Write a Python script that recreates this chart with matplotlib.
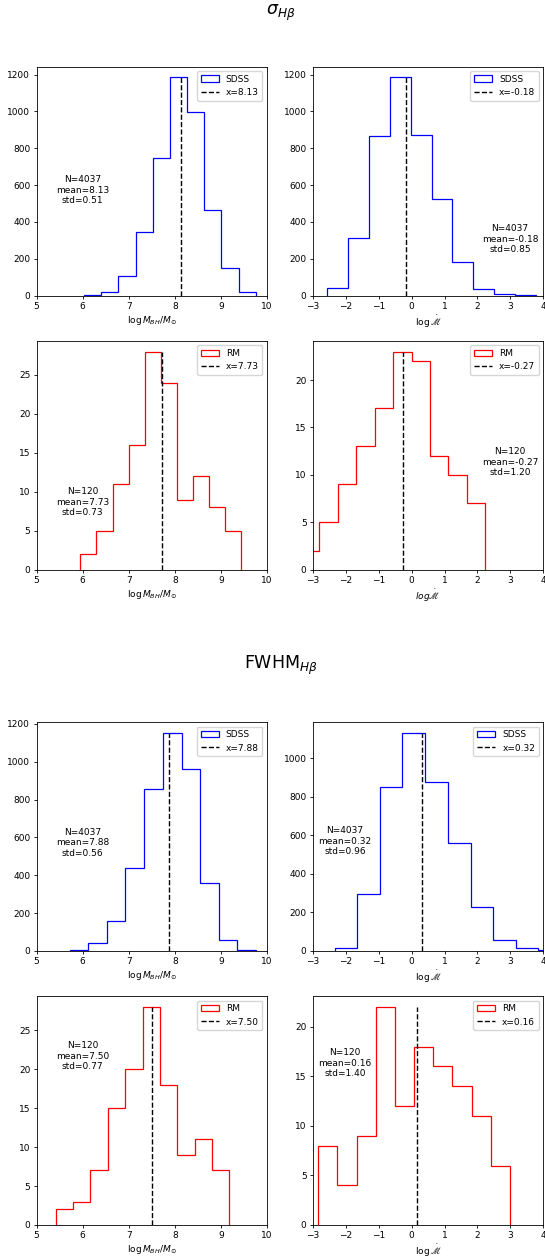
import numpy as np
import matplotlib
matplotlib.use('Agg')
import matplotlib.pyplot as plt

FS = 6.5

# sigma_Hbeta section
sig_sdss_m_edges = [6.02, 6.40, 6.77, 7.15, 7.52, 7.89, 8.27, 8.64, 9.01, 9.39, 9.76]
sig_sdss_m_counts = [5, 21, 104, 347, 745, 1185, 995, 465, 152, 18]
sig_sdss_a_edges = [-2.56, -1.93, -1.29, -0.66, -0.03, 0.61, 1.24, 1.87, 2.50, 3.14, 3.77]
sig_sdss_a_counts = [43, 315, 868, 1185, 873, 523, 180, 36, 10, 4]
sig_rm_m_edges = [5.95, 6.30, 6.65, 7.00, 7.35, 7.69, 8.04, 8.39, 8.74, 9.08, 9.43]
sig_rm_m_counts = [2, 5, 11, 16, 28, 24, 9, 12, 8, 5]
sig_rm_a_edges = [-3.36, -2.80, -2.24, -1.68, -1.12, -0.56, 0.00, 0.55, 1.11, 1.67, 2.22]
sig_rm_a_counts = [2, 5, 9, 13, 17, 23, 22, 12, 10, 7]

# FWHM_Hbeta section
fw_sdss_m_edges = [5.72, 6.12, 6.53, 6.93, 7.34, 7.74, 8.15, 8.55, 8.96, 9.36, 9.77]
fw_sdss_m_counts = [7, 43, 159, 438, 854, 1152, 960, 360, 60, 4]
fw_sdss_a_edges = [-2.34, -1.65, -0.97, -0.28, 0.41, 1.10, 1.79, 2.47, 3.16, 3.85, 4.54]
fw_sdss_a_counts = [14, 298, 852, 1132, 876, 560, 226, 59, 14, 6]
fw_rm_m_edges = [5.42, 5.80, 6.17, 6.55, 6.93, 7.30, 7.68, 8.05, 8.43, 8.80, 9.18]
fw_rm_m_counts = [2, 3, 7, 15, 20, 28, 18, 9, 11, 7]
fw_rm_a_edges = [-2.83, -2.25, -1.67, -1.09, -0.51, 0.07, 0.65, 1.24, 1.82, 2.40, 2.98]
fw_rm_a_counts = [8, 4, 9, 22, 12, 18, 16, 14, 11, 6]

n_sdss, n_rm = 4037, 120
means = [8.13, -0.18, 7.73, -0.27, 7.88, 0.32, 7.50, 0.16]
stds = [0.51, 0.85, 0.73, 1.20, 0.56, 0.96, 0.77, 1.40]

section_titles = [r'$\sigma_{H\beta}$', r'FWHM$_{H\beta}$']
xlabel_m = r'$\log M_{BH}/M_{\odot}$'
xlabel_a = r'$\log \dot{\mathscr{M}}$'
xlabel_a_it = r'$log \dot{\mathscr{M}}$'

panels = [
    (sig_sdss_m_edges, sig_sdss_m_counts, 'SDSS', 'blue', n_sdss, (5, 10), xlabel_m, (0.20, 0.46)),
    (sig_sdss_a_edges, sig_sdss_a_counts, 'SDSS', 'blue', n_sdss, (-3, 4), xlabel_a, (0.855, 0.245)),
    (sig_rm_m_edges, sig_rm_m_counts, 'RM', 'red', n_rm, (5, 10), xlabel_m, (0.20, 0.295)),
    (sig_rm_a_edges, sig_rm_a_counts, 'RM', 'red', n_rm, (-3, 4), xlabel_a_it, (0.855, 0.47)),
    (fw_sdss_m_edges, fw_sdss_m_counts, 'SDSS', 'blue', n_sdss, (5, 10), xlabel_m, (0.20, 0.473)),
    (fw_sdss_a_edges, fw_sdss_a_counts, 'SDSS', 'blue', n_sdss, (-3, 4), xlabel_a, (0.14, 0.48)),
    (fw_rm_m_edges, fw_rm_m_counts, 'RM', 'red', n_rm, (5, 10), xlabel_m, (0.20, 0.737)),
    (fw_rm_a_edges, fw_rm_a_counts, 'RM', 'red', n_rm, (-3, 4), xlabel_a, (0.14, 0.706)),
]

W, H = 545, 1260
col_left = [36.5, 312.8]
ax_w = 230.5
ax_h = 229
row_bottom = [295.5, 569.7, 951, 1225]
title_y = [13, 665]

fig = plt.figure(figsize=(W / 100, H / 100), dpi=100)

for s, t in enumerate(section_titles):
    fig.text(0.516, 1 - title_y[s] / H, t, ha='center', va='center', fontsize=12.5)

for i, (edges, counts, lab, col, n, xlim, xlab, tpos) in enumerate(panels):
    row, c = i // 2, i % 2
    ax = fig.add_axes([col_left[c] / W, 1 - row_bottom[row] / H, ax_w / W, ax_h / H])
    ax.hist(edges[:-1], bins=edges, weights=counts, histtype='step', color=col,
            lw=0.9, label=lab)
    ax.vlines(means[i], 0, max(counts), colors='black', linestyles='--', lw=1.0,
              label=f'x={means[i]:.2f}')
    ax.set_xlim(*xlim)
    ax.set_xlabel(xlab, fontsize=FS, labelpad=2)
    ax.text(tpos[0], tpos[1], f'N={n}\nmean={means[i]:.2f}\nstd={stds[i]:.2f}',
            transform=ax.transAxes, ha='center', va='center', multialignment='center',
            fontsize=FS)
    ax.tick_params(labelsize=FS, length=2.5, width=0.6, pad=2)
    for sp in ax.spines.values():
        sp.set_linewidth(0.6)
    ax.legend(loc='upper right', fontsize=FS)

fig.savefig('out.png', dpi=100)
